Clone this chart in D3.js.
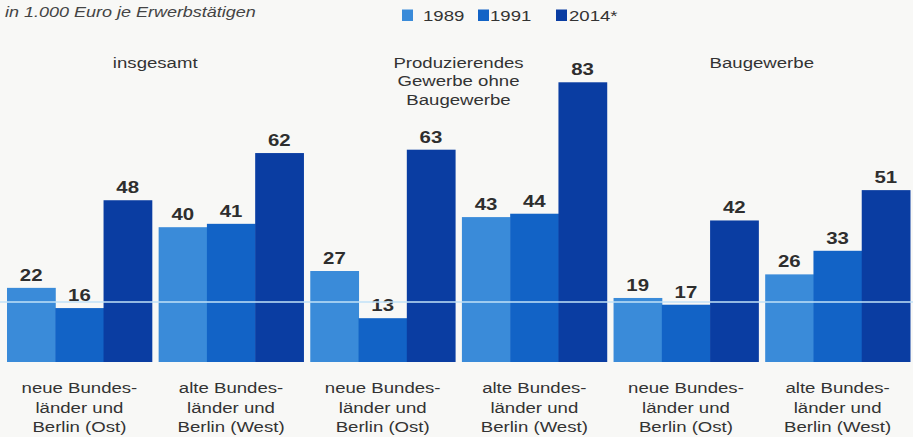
<!DOCTYPE html>
<html>
<head>
<meta charset="utf-8">
<script src="https://cdn.jsdelivr.net/npm/d3@7/dist/d3.min.js"></script>
<style>
  html, body { margin: 0; padding: 0; background: #f8f8f6; }
  svg { display: block; }
  text { font-family: "Liberation Sans", Arial, Helvetica, sans-serif; fill: #333; }
</style>
</head>
<body>
<svg id="chart" width="913" height="437"></svg>
<script>
// Labour productivity: 1,000 euro per employed person
const years = ["1989", "1991", "2014*"];
const sectorTitles = [
  ["insgesamt"],
  ["Produzierendes", "Gewerbe ohne", "Baugewerbe"],
  ["Baugewerbe"]
];
const regionLabels = [
  ["neue Bundes-", "länder und", "Berlin (Ost)"],
  ["alte Bundes-", "länder und", "Berlin (West)"]
];
// one entry per sector/region group: East, West for each of the three sectors
const values1989 = [22, 40, 27, 43, 19, 26];
const values1991 = [16, 41, 13, 44, 17, 33];
const values2014 = [48, 62, 63, 83, 42, 51];
const guideValue = 17.8;

const colors = ["#3a8bd9", "#1263c6", "#0a3da2"];
const series = [values1989, values1991, values2014];
const groupIds = d3.range(values1989.length);

const svg = d3.select("#chart");
const W = 913, H = 437;
const stretch = 1.2; // condensed print type appears horizontally widened

const x0 = d3.scaleBand().domain(groupIds).range([7, 910]).paddingInner(0.045).paddingOuter(0);
const x1 = d3.scaleBand().domain(d3.range(years.length)).range([0, x0.bandwidth()]).padding(0);
const y = d3.scaleLinear().domain([0, 100]).range([362, 25]);

function stext(sel, x, yy, str, opts = {}) {
  return sel.append("text")
    .attr("transform", `translate(${x},${yy}) scale(${opts.sx || stretch},1)`)
    .attr("text-anchor", opts.anchor || "middle")
    .attr("font-size", opts.size || 15.5)
    .attr("font-weight", opts.weight || "normal")
    .attr("font-style", opts.style || "normal")
    .text(str);
}

// subtitle
stext(svg, 5, 17, "in 1.000 Euro je Erwerbstätigen", { anchor: "start", size: 15, style: "italic" })
  .style("fill", "#444");

// legend
const legendX = [402, 478, 556];
const legendTextX = [423, 490, 569];
years.forEach((yr, i) => {
  svg.append("rect").attr("x", legendX[i]).attr("y", 9.5).attr("width", 11).attr("height", 11.5)
    .attr("fill", colors[i]);
  stext(svg, legendTextX[i], 21, yr, { anchor: "start", size: 15.5 });
});

// bars
const groups = svg.append("g").selectAll("g").data(groupIds).join("g")
  .attr("transform", g => `translate(${x0(g)},0)`);

groups.selectAll("rect").data(g => series.map((s, i) => ({ i, v: s[g] }))).join("rect")
  .attr("x", d => x1(d.i))
  .attr("width", x1.bandwidth() + 0.5)
  .attr("y", d => y(d.v))
  .attr("height", d => y(0) - y(d.v))
  .attr("fill", d => colors[d.i]);

// value labels
groups.each(function (g) {
  const sel = d3.select(this);
  series.forEach((s, i) => {
    stext(sel, x1(i) + x1.bandwidth() / 2, y(s[g]) - 7, s[g], { size: 17, weight: "bold" })
      .style("fill", "#2e2e2e");
  });
});

// thin light guide rule across the chart
svg.append("line")
  .attr("x1", 0).attr("x2", W)
  .attr("y1", y(guideValue)).attr("y2", y(guideValue))
  .attr("stroke", "#c2e2f7").attr("stroke-width", 1.6);

// sector titles centred over each East/West pair
sectorTitles.forEach((lines, k) => {
  const cx = (x0(2 * k) + x0(2 * k + 1) + x0.bandwidth()) / 2;
  lines.forEach((ln, j) => stext(svg, cx, 67.5 + j * 18.7, ln, { size: 15.5 }));
});

// region labels under each group
groupIds.forEach(g => {
  const cx = x0(g) + x0.bandwidth() / 2;
  regionLabels[g % 2].forEach((ln, j) => stext(svg, cx, 393 + j * 19.7, ln, { size: 15.5 }));
});
</script>
</body>
</html>
